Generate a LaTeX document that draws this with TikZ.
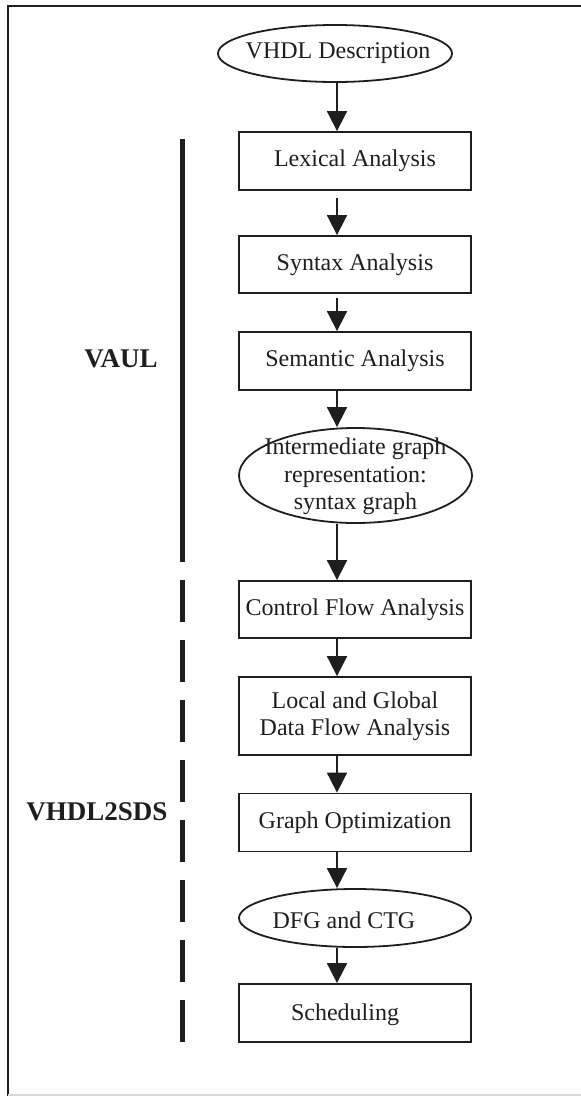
\documentclass[tikz,border=0pt]{standalone}
\usepackage{fontspec}
\setmainfont{Liberation Serif}
\usetikzlibrary{shapes.geometric,arrows.meta}

\definecolor{ink}{HTML}{1E1E1E}

\tikzset{
  stage/.style={draw=ink, line width=1.8pt, rectangle, minimum width=232pt,
                inner sep=0pt, align=center, text=ink,
                font=\fontsize{24}{27}\selectfont},
  oval/.style={draw=ink, line width=1.8pt, ellipse, inner sep=0pt},
  ovaltext/.style={align=center, text=ink, inner sep=0pt,
                   font=\fontsize{24}{27.5}\selectfont},
  flow/.style={draw=ink, line width=1.8pt,
               -{Triangle[width=20pt,length=20pt]}},
  group/.style={text=ink, font=\fontsize{27}{30}\selectfont\bfseries},
  rail/.style={draw=ink, line width=5pt},
  frame/.style={draw=ink, line width=2pt}
}

\begin{document}
\begin{tikzpicture}[x=1pt,y=-1pt]
  \useasboundingbox (0,0) rectangle (581,1096);

  % page frame
  \draw[frame] (581,6) -- (8,6) -- (8,1096);
  \draw[draw=black!15, line width=1.2pt] (8,1095) -- (581,1095);

  % x position of the flow arrows
  \coordinate (ax) at (337,0);

  % flow stages
  \node[oval, minimum width=234pt, minimum height=57pt] (vhdl) at (335,53.5) {};
  \node[ovaltext] at ([xshift=3pt]vhdl.center) {VHDL Description};

  \node[stage, minimum height=58pt] (lex) at (355,161) {Lexical Analysis};
  \node[stage, minimum height=57pt] (syn) at (355,264.5) {Syntax Analysis};
  \node[stage, minimum height=58pt] (sem) at (355,361) {Semantic Analysis};

  \node[oval, minimum width=233pt, minimum height=95pt] (igr) at (355.5,475.5) {};
  \node[ovaltext] at ([yshift=-1pt]igr.center) {Intermediate graph\\representation:\\syntax graph};

  \node[stage, minimum height=57pt] (cfa) at (355,609.5) {Control Flow Analysis};
  \node[stage, minimum height=78pt] (dfa) at (355,716) {Local and Global\\Data Flow Analysis};
  \node[stage, minimum height=58pt] (opt) at (355,822.5) {Graph Optimization};

  \node[oval, minimum width=232pt, minimum height=58pt] (dfg) at (355,918) {};
  \node[ovaltext] at ([xshift=-11pt,yshift=-2pt]dfg.center) {DFG and CTG};

  \node[stage, minimum height=58pt] (sch) at (355,1013) {};
  \node[ovaltext] at ([xshift=-10pt,yshift=-2pt]sch.center) {Scheduling};

  % connectors
  \draw[flow] (vhdl.south -| ax) -- (lex.north -| ax);
  \draw[flow, shorten <=7pt] (lex.south -| ax) -- (syn.north -| ax);
  \draw[flow, shorten <=4pt] (syn.south -| ax) -- (sem.north -| ax);
  \draw[flow] (sem.south -| ax) -- (igr.north -| ax);
  \draw[flow] (igr.south -| ax) -- (cfa.north -| ax);
  \draw[flow] (cfa.south -| ax) -- (dfa.north -| ax);
  \draw[flow] (dfa.south -| ax) -- (opt.north -| ax);
  \draw[flow] (opt.south -| ax) -- (dfg.north -| ax);
  \draw[flow] (dfg.south -| ax) -- (sch.north -| ax);

  % tool brackets
  \coordinate (vaultop) at (182,139);
  \coordinate (vaulbot) at (182,562);
  \coordinate (sdstop) at (182,580);
  \coordinate (sdsbot) at (182,1042);
  \draw[rail] (vaultop) -- (vaulbot);
  \draw[rail, dash pattern=on 42pt off 18pt] (sdstop) -- (sdsbot);

  \node[group] (vaul) at (121,359) {VAUL};
  \node[group] (sds) at (97,812) {VHDL2SDS};
\end{tikzpicture}
\end{document}
